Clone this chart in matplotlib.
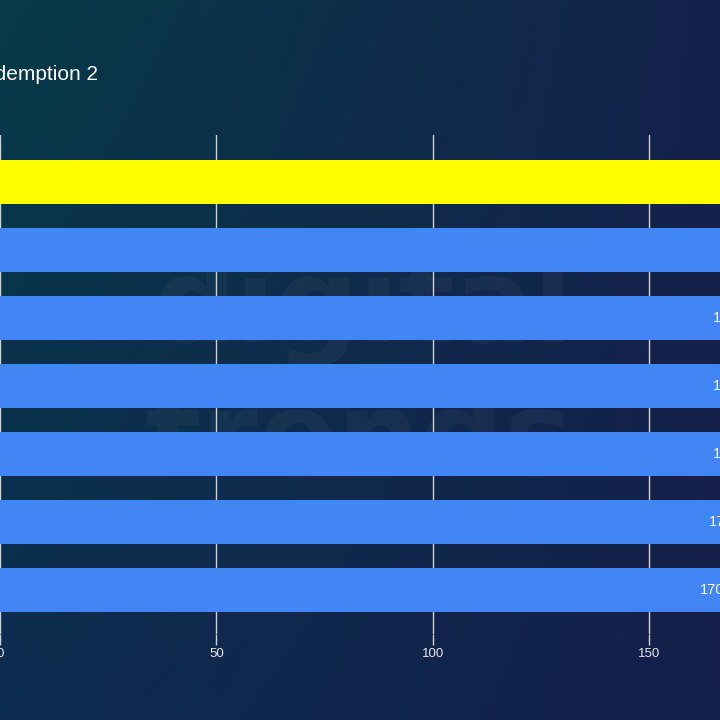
import numpy as np
import matplotlib
matplotlib.use("Agg")
import matplotlib.pyplot as plt

# ---- data ----
title = "Red Dead Redemption 2"
categories = ["GPU A", "GPU B", "GPU C", "GPU D", "GPU E", "GPU F", "GPU G"]
values = [195, 182, 173, 173, 173, 172, 170]
bar_colors = ["#ffff00", "#4285f4", "#4285f4", "#4285f4", "#4285f4", "#4285f4", "#4285f4"]
xticks = [0, 50, 100, 150, 200]

W = H = 720
fig = plt.figure(figsize=(7.2, 7.2), dpi=100)

# background gradient
bg = fig.add_axes([0, 0, 1, 1], zorder=-2)
ny, nx = 200, 200
u = np.linspace(0, 1, nx)[None, :, None]
v = np.linspace(0, 1, ny)[:, None, None]
TL = np.array([7, 58, 72]) / 255
TR = np.array([21, 34, 76]) / 255
BL = np.array([13, 44, 80]) / 255
BR = np.array([20, 32, 74]) / 255
img = (1 - u) * (1 - v) * TL + u * (1 - v) * TR + (1 - u) * v * BL + u * v * BR
bg.imshow(img, aspect="auto", extent=[0, 1, 0, 1], origin="upper")
bg.set_xlim(0, 1); bg.set_ylim(0, 1)
bg.axis("off")
# watermark
bg.text(0.505, 0.57, "digital", ha="center", va="center", fontsize=84, fontweight="bold",
        color="white", alpha=0.035, family="DejaVu Sans")
bg.text(0.5, 0.385, "trends", ha="center", va="center", fontsize=84, fontweight="bold",
        color="white", alpha=0.035, family="DejaVu Sans")

# main axes geometry (pixel-based)
px_per_unit = 4.327
x0_px = 0.0
xmax = 200
top_px, bot_px = 135, 634
pitch = 68.0
ax_w = xmax * px_per_unit / W
ax = fig.add_axes([x0_px / W, (H - bot_px) / H, ax_w, (bot_px - top_px) / H])
ax.set_facecolor("none")

n = len(categories)
ypos = np.arange(n)
top_units = (182 - top_px) / pitch
bot_units = (bot_px - 590) / pitch
ax.set_ylim(n - 1 + bot_units, -top_units)
ax.set_xlim(0, xmax)

ax.barh(ypos, values, height=44 / pitch, color=bar_colors, zorder=3)
ax.set_xticks(xticks)
ax.set_xticklabels([str(t) for t in xticks], fontsize=9.5, color="#e8e8e8", family="Liberation Sans")
ax.set_yticks([])
ax.grid(axis="x", color="#d0d0d0", linewidth=1, zorder=0)
ax.tick_params(axis="x", length=8, width=1, color="#d0d0d0", pad=2)
for s in ax.spines.values():
    s.set_visible(False)

pad_units = 11 / px_per_unit
for y, v_ in zip(ypos, values):
    ax.text(v_ - pad_units, y, f"{v_}", ha="right", va="center", color="white",
            fontsize=10.5, family="Liberation Sans", zorder=4)

fig.text(98 / W, 1 - 74 / H, title, ha="right", va="center", color="white",
         fontsize=15, family="Liberation Sans")

fig.savefig("out.png", dpi=100)
